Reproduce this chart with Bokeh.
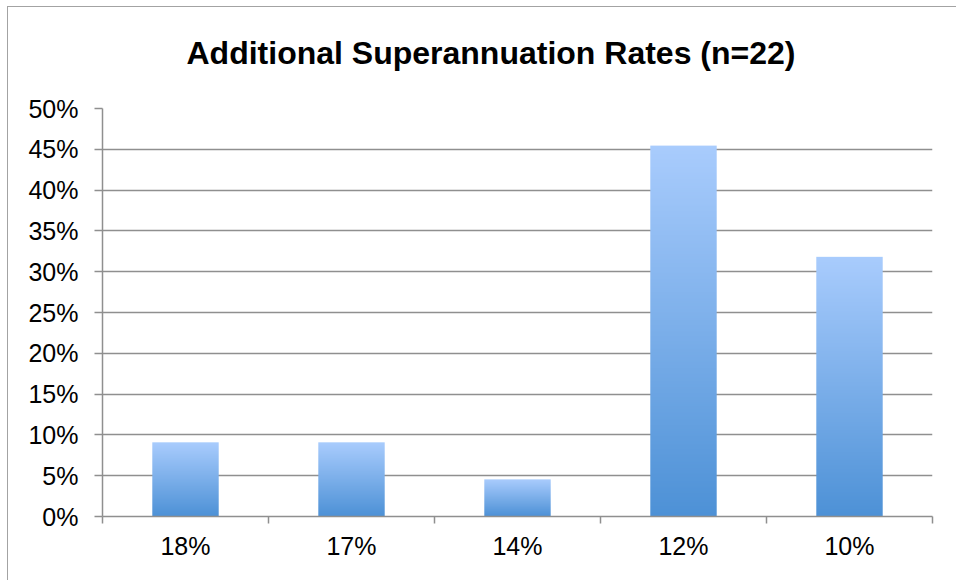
import numpy as np
from bokeh.plotting import figure
from bokeh.models import FixedTicker, NumeralTickFormatter, Title, Range1d
from bokeh.embed import file_html
from bokeh.resources import INLINE

# ---- data ----
categories = ["18%", "17%", "14%", "12%", "10%"]
shares = [0.0909, 0.0909, 0.0455, 0.4545, 0.3182]
y_ticks = [0.0, 0.05, 0.10, 0.15, 0.20, 0.25, 0.30, 0.35, 0.40, 0.45, 0.50]
title_text = "Additional Superannuation Rates (n=22)"

FONT = "Liberation Sans"
GRID = "#8f8f8f"
TOP_RGB = np.array([169, 204, 253])
BOT_RGB = np.array([77, 145, 214])

n = len(categories)
centers = [i + 0.5 for i in range(n)]

p = figure(width=949, height=574, output_backend="svg", toolbar_location=None,
           x_range=Range1d(0, n), y_range=Range1d(0, 0.5),
           min_border_left=94, min_border_right=25, min_border_top=101, min_border_bottom=65)
p.styles = {"border-left": "1px solid #a3a3a3", "border-top": "1px solid #a3a3a3",
            "margin-left": "7px", "margin-top": "6px"}
p.outline_line_color = None
p.background_fill_color = "white"
p.border_fill_color = "white"

# gradient bars as stretched vertical gradient images
R = 256
t = np.linspace(0, 1, R)
rgba = np.empty((R, 1, 4), dtype=np.uint8)
for k in range(3):
    rgba[:, 0, k] = np.round(BOT_RGB[k] + (TOP_RGB[k] - BOT_RGB[k]) * t).astype(np.uint8)
rgba[:, 0, 3] = 255
grad = rgba.view(dtype=np.uint32).reshape((R, 1))

bw = 0.40
p.image_rgba(image=[grad] * n, x=[c - bw / 2 for c in centers], y=[0] * n,
             dw=[bw] * n, dh=shares)

# x axis: labels at centers, ticks at boundaries (minor)
p.xaxis.ticker = FixedTicker(ticks=centers, minor_ticks=list(range(n + 1)))
p.xaxis.major_label_overrides = {c: lab for c, lab in zip(centers, categories)}
p.xaxis.major_tick_out = 0
p.xaxis.major_tick_in = 0
p.xaxis.minor_tick_out = 7
p.xaxis.minor_tick_in = 0
p.xaxis.minor_tick_line_color = GRID
p.xaxis.minor_tick_line_width = 1.5
p.xaxis.axis_line_color = GRID
p.xaxis.axis_line_width = 1.5
p.xaxis.major_label_text_font = FONT
p.xaxis.major_label_text_font_size = "25px"
p.xaxis.major_label_text_color = "black"
p.xaxis.major_label_standoff = 8
p.xgrid.grid_line_color = None

p.yaxis.ticker = FixedTicker(ticks=y_ticks)
p.yaxis.formatter = NumeralTickFormatter(format="0%")
p.yaxis.major_tick_out = 8
p.yaxis.major_tick_in = 0
p.yaxis.minor_tick_line_color = None
p.yaxis.major_tick_line_color = GRID
p.yaxis.major_tick_line_width = 1.5
p.yaxis.axis_line_color = GRID
p.yaxis.axis_line_width = 1.5
p.yaxis.major_label_text_font = FONT
p.yaxis.major_label_text_font_size = "25px"
p.yaxis.major_label_text_color = "black"
p.yaxis.major_label_standoff = 16
p.ygrid.ticker = FixedTicker(ticks=y_ticks)
p.ygrid.grid_line_color = GRID
p.ygrid.grid_line_width = 1.5

# title: a trailing empty line keeps the gap between the title and the plot area
p.title = Title(text=title_text + "\n", text_font=FONT, text_font_size="32px",
                text_font_style="bold", text_color="black", align="left",
                offset=84, vertical_align="top", standoff=0, text_line_height=1.0)

open("out.html", "w").write(file_html(p, INLINE))
